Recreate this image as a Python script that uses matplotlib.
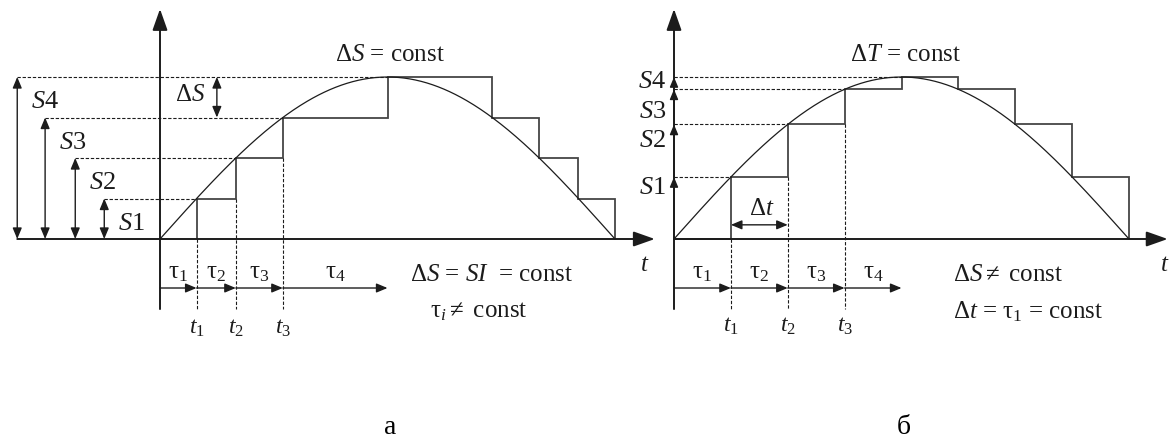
import numpy as np
import matplotlib
matplotlib.use('Agg')
import matplotlib.pyplot as plt

plt.rcParams['font.family'] = ['Liberation Serif', 'DejaVu Serif']
plt.rcParams['mathtext.fontset'] = 'custom'
plt.rcParams['mathtext.rm'] = 'Liberation Serif'
plt.rcParams['mathtext.it'] = 'Liberation Serif:italic'
plt.rcParams['mathtext.bf'] = 'Liberation Serif:bold'

# trajectory S(t): half sine, time in units of dt, path in units of dS
t_total = 8
s_peak = 4

# (а) equal path steps
s_levels = [1, 2, 3, 4]
s_names = ['$S$1', '$S$2', '$S$3', '$S$4']
# (б) equal time steps
sample_times = [0, 1, 2, 3, 4, 5, 6, 7, 8]

tau_names = [r'$\mathrm{\tau}_1$', r'$\mathrm{\tau}_2$', r'$\mathrm{\tau}_3$', r'$\mathrm{\tau}_4$']
t_names = ['$t_1$', '$t_2$', '$t_3$']

INK = '#1c1c1c'
STEP = '#454545'
FS = 18

# pixel layout: 1 dt = 455/8 px, 1 dS = 40.5 px, baseline at y=240
SX = 455 / 8
SY = 40.5
W, H = 1175, 439
Y0 = 240


def traj(t):
    return s_peak * np.sin(np.pi * np.asarray(t, dtype=float) / t_total)


def arrow(ax, p0, p1, style='-|>', scale=12, lw=1.0, hl=0.6, hw=0.25):
    ax.annotate('', xy=p1, xytext=p0,
                arrowprops=dict(arrowstyle=f'{style},head_length={hl},head_width={hw}',
                                mutation_scale=scale, lw=lw, color=INK,
                                shrinkA=0, shrinkB=0))


def dashed(ax, xs, ys):
    ax.plot(xs, ys, color=INK, lw=0.8, dashes=(3, 1.6))


def label(ax, x, y, s, size=FS, ha='center'):
    ax.text(x, y, s, fontsize=size, color=INK, ha=ha, va='center')


def make_axes(fig, px_left, px_right, px_origin):
    ax = fig.add_axes([px_left / W, 0, (px_right - px_left) / W, 1])
    ax.set_xlim((px_left - px_origin) / SX, (px_right - px_origin) / SX)
    ax.set_ylim(-(H - Y0) / SY, Y0 / SY)
    ax.axis('off')
    return ax


def axes_arrows(ax, x_start, x_end):
    arrow(ax, (0, -1.73), (0, 5.68), scale=20, lw=1.4, hl=0.65, hw=0.23)
    arrow(ax, (x_start, 0), (x_end, 0), scale=20, lw=1.4, hl=0.65, hw=0.23)


fig = plt.figure(figsize=(W / 100, H / 100), dpi=100)
fig.patch.set_facecolor('white')

t = np.linspace(0, t_total, 400)

# ---------- (а) dS = const ----------
ax = make_axes(fig, 0, 660, 160)
axes_arrows(ax, -2.51, 8.70)
ax.plot(t, traj(t), color=INK, lw=0.9)

tc = t_total / np.pi * np.arcsin(np.array(s_levels) / s_peak)
edges = list(tc) + [t_total - x for x in tc[2::-1]] + [t_total]
vals = s_levels + s_levels[2::-1]
ax.stairs(vals, edges, baseline=0, color=STEP, lw=1.3)

arrow_x = [-0.98, -1.49, -2.02, -2.51]
for lev, ax_x, name, tcx in zip(s_levels, arrow_x, s_names, tc):
    arrow(ax, (ax_x, lev), (ax_x, 0), style='<|-|>', scale=11)
    dashed(ax, [ax_x, tcx], [lev, lev])
    label(ax, ax_x + 0.48, lev - 0.6, name, size=FS + 1)

for i in range(3):
    dashed(ax, [tc[i], tc[i]], [s_levels[i] - 1, -1.73])
    label(ax, tc[i], -2.17, t_names[i], size=FS - 1)

tau_edges = [0] + list(tc)
for i in range(4):
    arrow(ax, (tau_edges[i], -1.21), (tau_edges[i + 1], -1.21), scale=11)
    label(ax, (tau_edges[i] + tau_edges[i + 1]) / 2, -0.81, tau_names[i])

arrow(ax, (1.0, 3), (1.0, 4), style='<|-|>', scale=11)
label(ax, 0.53, 3.58, r'$\mathrm{\Delta}S$')
label(ax, 4.05, 4.57, r'$\mathrm{\Delta}S$ = const')
label(ax, 8.53, -0.62, '$t$')
label(ax, 5.84, -0.86, r'$\mathrm{\Delta}S$ = $SI$  = const')
label(ax, 5.61, -1.78, r'$\mathrm{\tau}_i \neq$ const')
ax.text(4.05, -4.64, 'а', fontsize=20, color='black', ha='center', va='center')

# ---------- (б) dt = const ----------
bx = make_axes(fig, 660, 1175, 674)
axes_arrows(bx, 0, 8.68)
bx.plot(t, traj(t), color=INK, lw=0.9)

samples = traj(sample_times)
bx.stairs(samples[:-1], sample_times, baseline=0, color=STEP, lw=1.3)

label_y = [1.28, 2.44, 3.16, 3.90]
for k in range(1, 5):
    arrow(bx, (0, samples[k - 1]), (0, samples[k]), scale=10)
    dashed(bx, [0, sample_times[k]], [samples[k], samples[k]])
    label(bx, -0.14, label_y[k - 1], s_names[k - 1], size=FS + 1, ha='right')

for k in range(1, 4):
    dashed(bx, [sample_times[k]] * 2, [samples[k - 1], -1.73])
    label(bx, sample_times[k], -2.12, t_names[k - 1], size=FS - 1)

for k in range(4):
    arrow(bx, (sample_times[k], -1.21), (sample_times[k + 1], -1.21), scale=11)
    label(bx, sample_times[k] + 0.5, -0.81, tau_names[k])

arrow(bx, (1, 0.35), (2, 0.35), style='<|-|>', scale=11)
label(bx, 1.55, 0.76, r'$\mathrm{\Delta}t$')
label(bx, 4.08, 4.57, r'$\mathrm{\Delta}T$ = const')
label(bx, 8.63, -0.62, '$t$')
label(bx, 4.9, -0.86, r'$\mathrm{\Delta}S \neq$ const', ha='left')
label(bx, 4.9, -1.78, r'$\mathrm{\Delta}t$ = $\mathrm{\tau}_1$ = const', ha='left')
bx.text(4.04, -4.64, 'б', fontsize=20, color='black', ha='center', va='center')

fig.savefig('out.png', dpi=100)
